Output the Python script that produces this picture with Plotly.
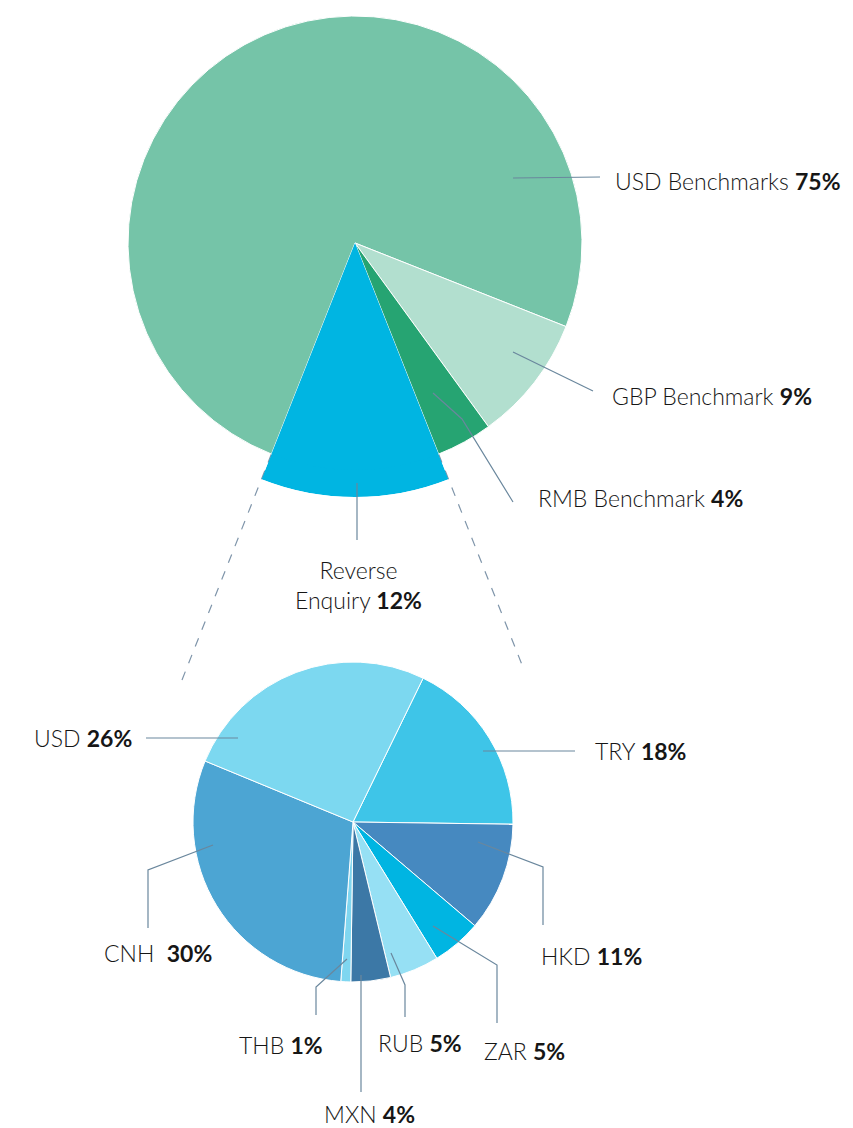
import math
import plotly.graph_objects as go

# page body has an 8px margin, so the figure is drawn 8px in
OFF = 8
W, H = 853 - OFF, 1128 - OFF

# top pie: enquiry types
top_labels = ["USD Benchmarks", "GBP Benchmark", "RMB Benchmark", "Reverse Enquiry"]
top_values = [75, 9, 4, 12]
top_colors = ["#75c4a8", "#b2dfcf", "#26a472", "#00b5e2"]

# bottom pie: reverse enquiry by currency
cur_labels = ["TRY", "HKD", "ZAR", "RUB", "MXN", "THB", "CNH", "USD"]
cur_values = [18, 11, 5, 5, 4, 1, 30, 26]
cur_colors = ["#3ec5e8", "#4689c0", "#00b5e2", "#96e0f4", "#3c78a6", "#7fd6f0", "#4ca5d3", "#7cd8f0"]

FONT = "Lato"
LINE = "#6a879d"


def px(x, y):
    # screen pixel -> paper coords
    return (x - OFF) / W, 1 - (y - OFF) / H


def dom(x0, x1, y0, y1):
    return dict(x=[(x0 - OFF) / W, (x1 - OFF) / W], y=[1 - (y1 - OFF) / H, 1 - (y0 - OFF) / H])


fig = go.Figure()

# reverse enquiry share centred at 6 o'clock
rev_share = top_values[-1] / sum(top_values)
rot_top = 180 + 360 * rev_share / 2

fig.add_trace(go.Pie(
    labels=top_labels, values=top_values, sort=False, direction="clockwise",
    rotation=rot_top, textinfo="none", hoverinfo="label+percent",
    marker=dict(colors=top_colors, line=dict(color="white", width=[1, 1, 1, 0])),
    domain=dom(128, 582, 16, 470), showlegend=False,
))

# enlarged wedge for the reverse enquiry slice
fig.add_trace(go.Barpolar(
    r=[1], theta=[180], width=[360 * rev_share], subplot="polar",
    marker=dict(color=top_colors[-1], line=dict(width=0)),
    name=top_labels[-1], showlegend=False, hoverinfo="name",
))
half = 180 * rev_share
fig.update_layout(polar=dict(
    domain=dom(230, 480, 243, 497),
    sector=[270 - half, 270 + half],
    bgcolor="rgba(0,0,0,0)",
    angularaxis=dict(visible=False, rotation=90, direction="clockwise", showgrid=False),
    radialaxis=dict(visible=False, range=[0, 1], showgrid=False),
    bargap=0,
))

fig.add_trace(go.Pie(
    labels=cur_labels, values=cur_values, sort=False, direction="clockwise",
    rotation=26, textinfo="none", hoverinfo="label+percent",
    marker=dict(colors=cur_colors, line=dict(color="white", width=1)),
    domain=dom(193, 513, 662, 982), showlegend=False,
))

# dashed connectors along the wedge edges
shapes = []
cx, cy = 355, 243
for a, r1 in [(-half, 471), (half, 458)]:
    t = math.radians(a)
    x0, y0 = cx + 227 * math.sin(t), cy + 227 * math.cos(t)
    x1, y1 = cx + r1 * math.sin(t), cy + r1 * math.cos(t)
    (X0, Y0), (X1, Y1) = px(x0, y0), px(x1, y1)
    shapes.append(dict(type="line", xref="paper", yref="paper", x0=X0, y0=Y0, x1=X1, y1=Y1,
                       line=dict(color="#7f95aa", width=1.2, dash="dash"), layer="below"))

leaders = [
    [(513, 178), (600, 177)],
    [(513, 352), (593, 391)],
    [(433, 393), (462, 419), (513, 502)],
    [(357, 483), (357, 540)],
    [(238, 738), (146, 738)],
    [(483, 751), (575, 751)],
    [(478, 842), (543, 867), (543, 925)],
    [(433, 926), (497, 965), (497, 1023)],
    [(391, 953), (405, 985), (405, 1017)],
    [(361, 975), (361, 1092)],
    [(347, 959), (316, 987), (316, 1015)],
    [(213, 845), (148, 870), (148, 928)],
]
for pts in leaders:
    path = ""
    for i, (x, y) in enumerate(pts):
        X, Y = px(x, y)
        path += ("M" if i == 0 else "L") + f"{X},{Y} "
    shapes.append(dict(type="path", xref="paper", yref="paper", path=path,
                       line=dict(color=LINE, width=1.2), layer="above"))

labels = [
    ("USD Benchmarks <b>75%</b>", 613, 181, "left"),
    ("GBP Benchmark <b>9%</b>", 610, 396, "left"),
    ("RMB Benchmark <b>4%</b>", 536, 498, "left"),
    ("Reverse<br>Enquiry <b>12%</b>", 358, 585, "center"),
    ("USD <b>26%</b>", 134, 738, "right"),
    ("TRY <b>18%</b>", 593, 751, "left"),
    ("HKD <b>11%</b>", 539, 956, "left"),
    ("ZAR <b>5%</b>", 482, 1051, "left"),
    ("RUB <b>5%</b>", 376, 1043, "left"),
    ("MXN <b>4%</b>", 322, 1114, "left"),
    ("THB <b>1%</b>", 237, 1045, "left"),
    ("CNH  <b>30%</b>", 102, 953, "left"),
]
annotations = []
for text, x, y, anchor in labels:
    X, Y = px(x, y)
    annotations.append(dict(text=text, x=X, y=Y, xref="paper", yref="paper",
                            xanchor=anchor, yanchor="middle", showarrow=False,
                            align="center",
                            font=dict(family=FONT, size=23, color="#161616", weight=300)))

fig.update_layout(
    width=W, height=H,
    margin=dict(l=0, r=0, t=0, b=0),
    paper_bgcolor="white", plot_bgcolor="white",
    shapes=shapes, annotations=annotations,
)

fig.write_html("out.html")
